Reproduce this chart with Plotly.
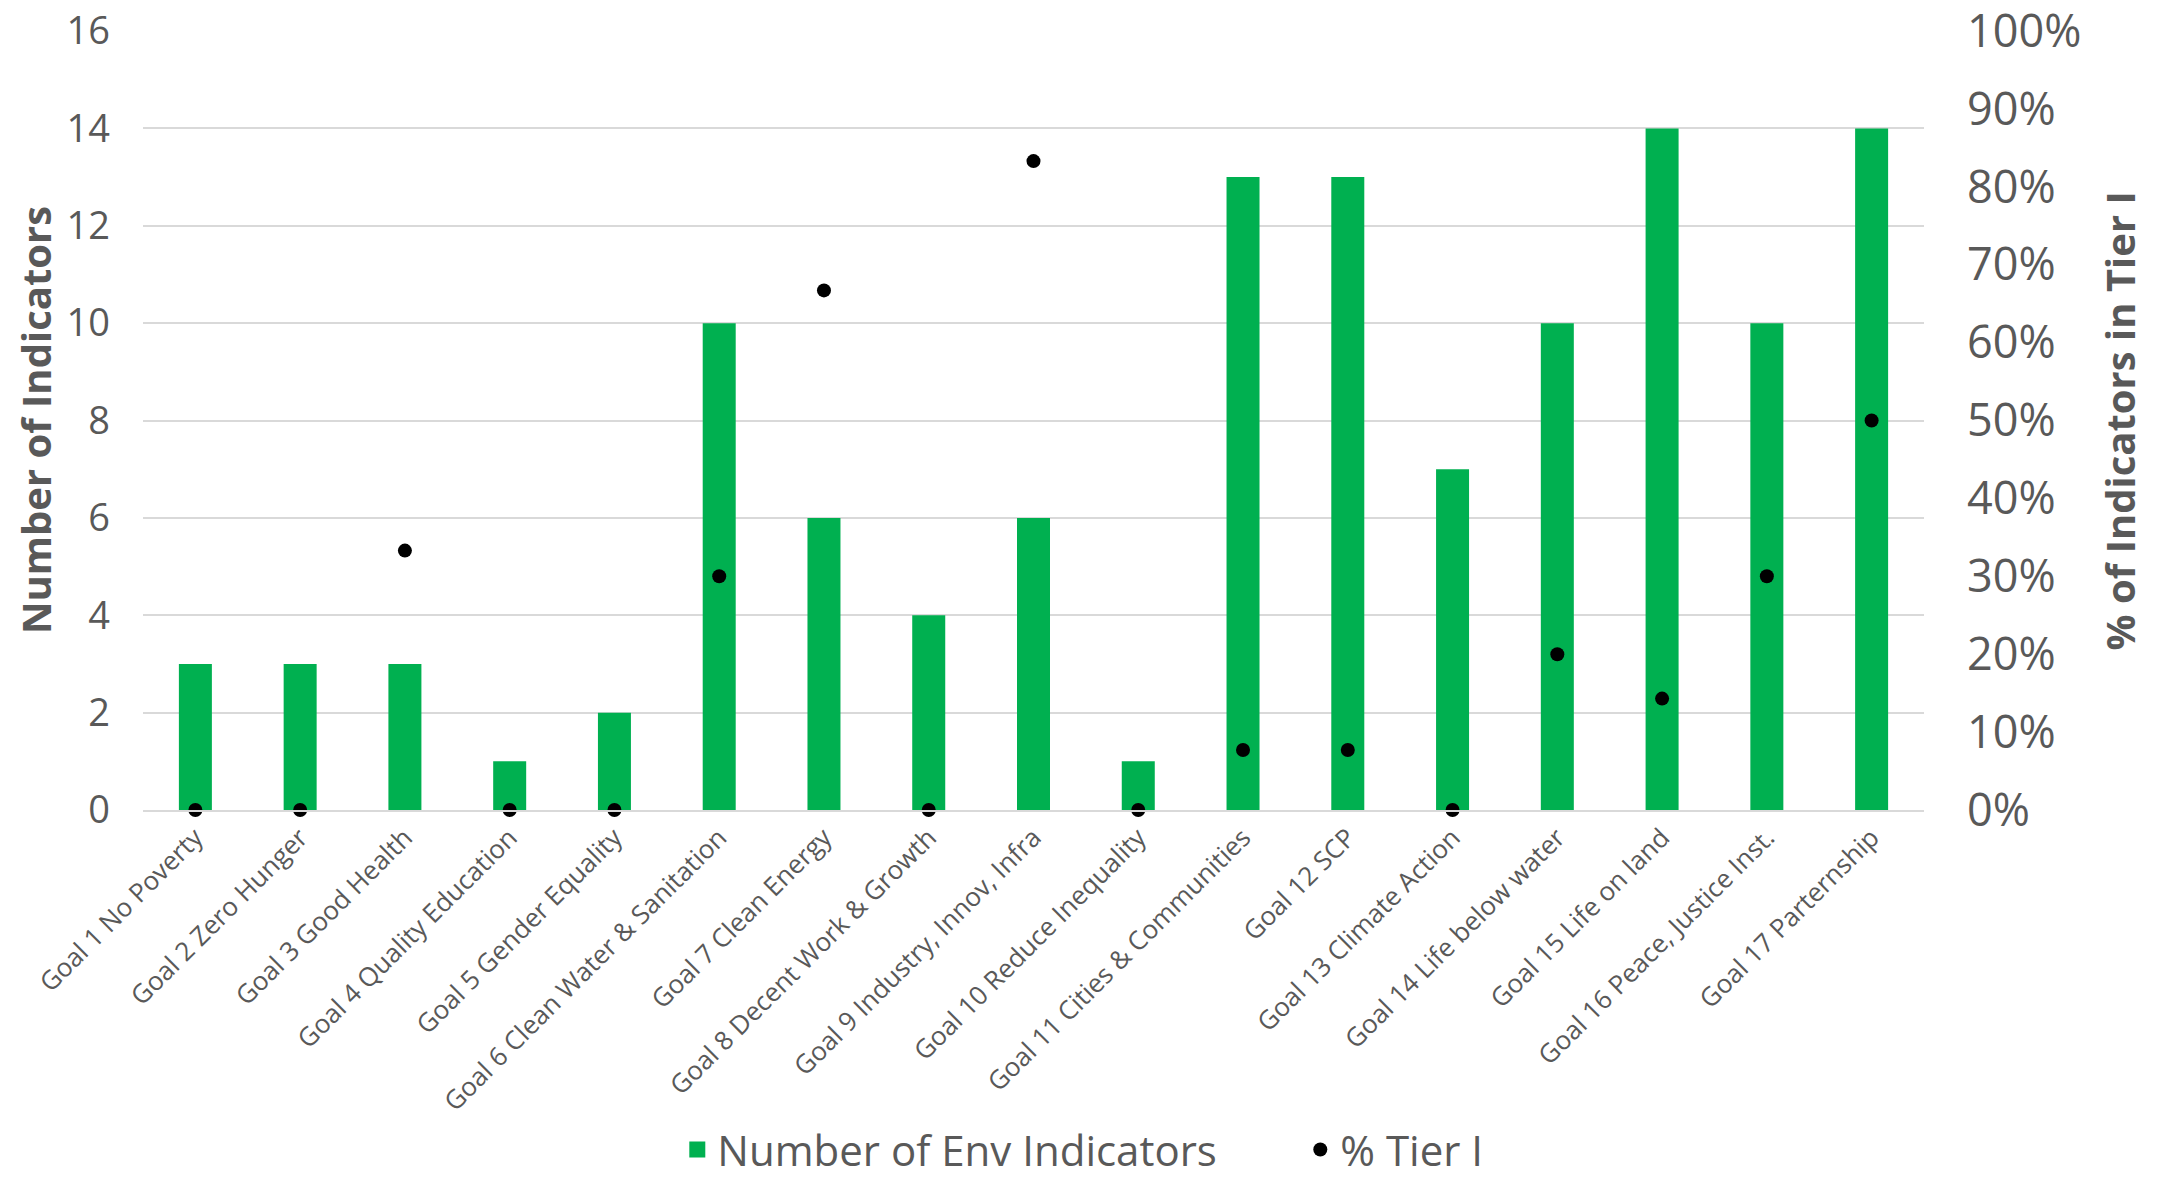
import plotly.graph_objects as go

categories = [
    "Goal 1 No Poverty", "Goal 2 Zero Hunger", "Goal 3 Good Health",
    "Goal 4 Quality Education", "Goal 5 Gender Equality",
    "Goal 6 Clean Water & Sanitation", "Goal 7 Clean Energy",
    "Goal 8 Decent Work & Growth", "Goal 9 Industry, Innov, Infra",
    "Goal 10 Reduce Inequality", "Goal 11 Cities & Communities",
    "Goal 12 SCP", "Goal 13 Climate Action", "Goal 14 Life below water",
    "Goal 15 Life on land", "Goal 16 Peace, Justice Inst.", "Goal 17 Parternship",
]
env_indicators = [3, 3, 3, 1, 2, 10, 6, 4, 6, 1, 13, 13, 7, 10, 14, 10, 14]
pct_tier1 = [0.0, 0.0, 33.3, 0.0, 0.0, 30.0, 66.7, 0.0, 83.3, 0.0,
             7.7, 7.7, 0.0, 20.0, 14.3, 30.0, 50.0]

left_ticks = [0, 2, 4, 6, 8, 10, 12, 14, 16]
right_ticks = [0, 10, 20, 30, 40, 50, 60, 70, 80, 90, 100]

FONT = "Open Sans"
TXT = "#595959"
GREEN = "#00B050"

fig = go.Figure()
fig.add_trace(go.Bar(
    x=categories, y=env_indicators, name="Number of Env Indicators",
    marker=dict(color=GREEN, line=dict(width=0)), yaxis="y", showlegend=False,
))
# legend entry for bars (larger square symbol, as in the reference)
fig.add_trace(go.Scatter(
    x=[None], y=[None], name="Number of Env Indicators", mode="markers",
    marker=dict(color=GREEN, size=24, symbol="square"), yaxis="y",
))
fig.add_trace(go.Scatter(
    x=categories, y=pct_tier1, name="% Tier I", mode="markers",
    marker=dict(color="black", size=14), yaxis="y2", cliponaxis=False,
))

fig.update_layout(
    width=2166, height=1182,
    margin=dict(l=143, r=242, t=31, b=372, autoexpand=False),
    paper_bgcolor="white", plot_bgcolor="white",
    font=dict(family=FONT, color=TXT),
    bargap=0.685,
    showlegend=True,
    legend=dict(orientation="h", x=0.300, xanchor="left", y=-0.4360, yanchor="middle",
                font=dict(size=42, color=TXT, family=FONT), itemsizing="trace",
                entrywidth=578),
    xaxis=dict(
        type="category", range=[-0.5, 16.5], tickangle=-45,
        tickfont=dict(size=26, color=TXT, family=FONT),
        showline=True, linecolor="#D9D9D9", linewidth=2, ticks="", showgrid=False,
        automargin=False,
    ),
    yaxis=dict(
        range=[0, 16], tickvals=left_ticks, ticktext=[str(v) for v in left_ticks],
        tickfont=dict(size=38, color=TXT, family=FONT),
        showgrid=True, gridcolor="#D9D9D9", gridwidth=2, zeroline=False,
        showline=False, ticks="", ticklabelstandoff=32, automargin=False,
        ticklabeloverflow="allow",
    ),
    yaxis2=dict(
        range=[0, 100], overlaying="y", side="right", tickvals=right_ticks,
        ticktext=[f"{v}%" for v in right_ticks],
        tickfont=dict(size=45, color=TXT, family=FONT),
        showgrid=False, zeroline=False, showline=False, ticks="",
        ticklabelstandoff=42, automargin=False, ticklabeloverflow="allow",
    ),
    annotations=[
        dict(text="<b>Number of Indicators</b>", xref="paper", yref="paper",
             x=-0.0603, y=0.5, textangle=-90, showarrow=False,
             font=dict(size=40, color=TXT, family=FONT), xanchor="center", yanchor="middle"),
        dict(text="<b>% of Indicators in Tier I</b>", xref="paper", yref="paper",
             x=1.110, y=0.5, textangle=-90, showarrow=False,
             font=dict(size=40, color=TXT, family=FONT), xanchor="center", yanchor="middle"),
    ],
)

fig.write_html("out.html", config={"displayModeBar": False},
               post_script="document.body.style.margin='0';")
